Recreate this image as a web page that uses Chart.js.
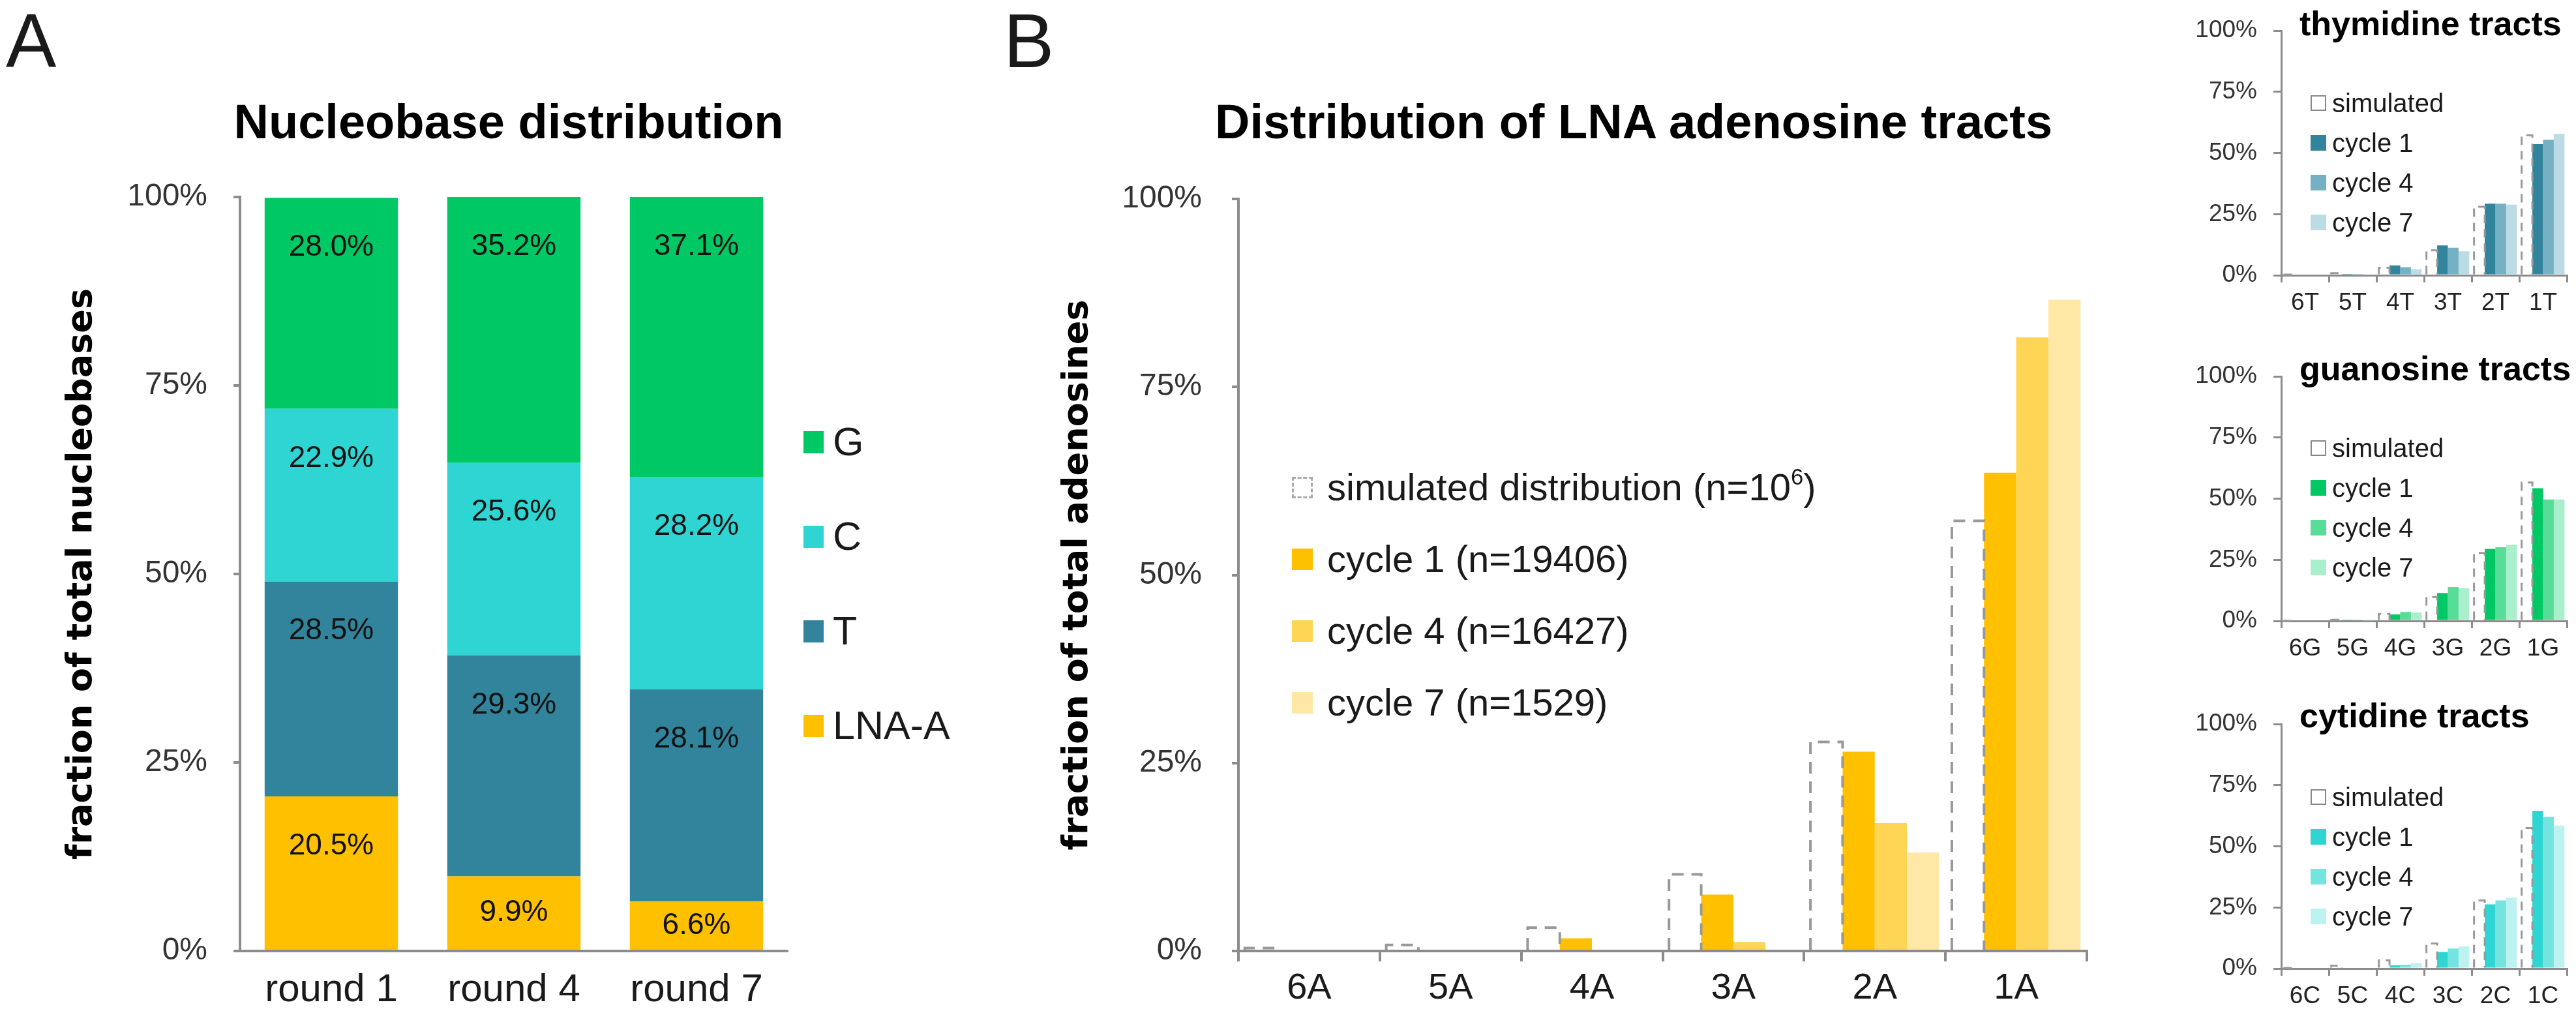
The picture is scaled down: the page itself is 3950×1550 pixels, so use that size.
<!DOCTYPE html>
<html>
<head>
<meta charset="utf-8">
<script src="https://cdn.jsdelivr.net/npm/chart.js@4.4.1/dist/chart.umd.min.js"></script>
<style>
  body { margin: 0; background: #fff; }
  #page { position: relative; width: 3950px; height: 1550px; overflow: hidden; background: #fff;
          font-family: "Liberation Sans", Arial, sans-serif; color: #1a1a1a; }
  canvas { position: absolute; }
  .txt { position: absolute; line-height: 1; white-space: nowrap; }
  .bold { font-weight: bold; color: #000; }
  .leg { position: absolute; }
  .row { display: flex; align-items: center; white-space: nowrap; line-height: 1; }
  .mark { box-sizing: border-box; flex: none; }
  sup { font-size: 0.6em; vertical-align: 0.7em; line-height: 0; }
</style>
</head>
<body>
<div id="page">
  <div class="txt" style="left:9px; top:5px; font-size:116px;">A</div>
  <div class="txt" style="left:1539px; top:5px; font-size:116px;">B</div>
  <div class="txt bold" style="left:780px; top:150px; font-size:74px; transform:translateX(-50%);">Nucleobase distribution</div>
  <div class="txt bold" style="left:2505px; top:150px; font-size:74px; transform:translateX(-50%);">Distribution of LNA adenosine tracts</div>
  <div class="txt bold" style="left:3526px; top:10px; font-size:52px;">thymidine tracts</div>
  <div class="txt bold" style="left:3526px; top:539px; font-size:52px;">guanosine tracts</div>
  <div class="txt bold" style="left:3526px; top:1071px; font-size:52px;">cytidine tracts</div>

  <canvas id="chartA" width="1215" height="1550" style="left:0; top:0;"></canvas>
  <canvas id="chartB" width="1730" height="1550" style="left:1500px; top:0;"></canvas>
  <canvas id="chartT" width="650" height="500" style="left:3300px; top:0;"></canvas>
  <canvas id="chartG" width="650" height="500" style="left:3300px; top:530px;"></canvas>
  <canvas id="chartC" width="650" height="487" style="left:3300px; top:1063px;"></canvas>

  <div class="leg" id="legA" style="left:1232px; top:605px;"></div>
  <div class="leg" id="legB" style="left:1981px; top:692px;"></div>
  <div class="leg" id="legT" style="left:3543px; top:127px;"></div>
  <div class="leg" id="legG" style="left:3543px; top:656px;"></div>
  <div class="leg" id="legC" style="left:3543px; top:1191px;"></div>
</div>

<script>
// ---- panel A: nucleobase distribution (stacked, bottom to top) ----
const roundLabels = ["round 1", "round 4", "round 7"];
const lnaA = [20.5, 9.9, 6.6];
const tBase = [28.5, 29.3, 28.1];
const cBase = [22.9, 25.6, 28.2];
const gBase = [28.0, 35.2, 37.1];

// ---- panel B: LNA adenosine tracts ----
const tractA = ["6A", "5A", "4A", "3A", "2A", "1A"];
const simA = [0.4, 0.8, 3.1, 10.2, 27.8, 57.2];
const cyc1A = [0, 0, 1.7, 7.5, 26.5, 63.6];
const cyc4A = [0, 0, 0, 1.2, 17.0, 81.6];
const cyc7A = [0, 0, 0, 0, 13.1, 86.6];

// ---- small panels ----
const tractT = ["6T", "5T", "4T", "3T", "2T", "1T"];
const simT = [0.3, 0.9, 3.1, 10.2, 28.0, 57.2];
const cyc1T = [0, 0.2, 4.0, 12.2, 29.3, 53.6];
const cyc4T = [0, 0.1, 3.3, 11.3, 29.3, 55.4];
const cyc7T = [0, 0, 2.4, 9.8, 28.9, 57.8];

const tractG = ["6G", "5G", "4G", "3G", "2G", "1G"];
const simG = [0.1, 0.5, 2.9, 9.8, 27.8, 56.6];
const cyc1G = [0, 0.3, 2.7, 11.4, 29.5, 54.3];
const cyc4G = [0, 0.3, 3.7, 13.9, 30.2, 49.7];
const cyc7G = [0, 0.2, 3.4, 13.4, 31.2, 49.7];

const tractC = ["6C", "5C", "4C", "3C", "2C", "1C"];
const simC = [0.3, 1.2, 3.4, 10.3, 27.9, 57.5];
const cyc1C = [0, 0, 1.4, 6.8, 26.3, 64.6];
const cyc4C = [0, 0, 1.6, 8.2, 27.9, 62.1];
const cyc7C = [0, 0, 2.3, 9.1, 29.0, 58.5];

const legendA = ["G", "C", "T", "LNA-A"];
const legendB = ["simulated distribution (n=10<sup>6</sup>)", "cycle 1 (n=19406)", "cycle 4 (n=16427)", "cycle 7 (n=1529)"];
const legendSmall = ["simulated", "cycle 1", "cycle 4", "cycle 7"];

const colG = "#00c864", colC = "#2ed5d2", colT = "#31849b", colA = "#ffc000";
const yellows = ["#ffc000", "#ffd555", "#ffe8a6"];
const blues = ["#31849b", "#76b0c3", "#bcdce5"];
const greens = ["#00c864", "#57dd97", "#a9efcb"];
const cyans = ["#2ed5d2", "#74e4e0", "#bcf2f0"];

const AXIS = "#8c8c8c";
const FONT = '"Liberation Sans", Arial, sans-serif';
Chart.defaults.font.family = FONT;
Chart.defaults.color = "#333";

// dashed outline for the simulated series (dataset 0)
const dashedSim = {
  id: "dashedSim",
  afterDatasetsDraw(chart, args, opts) {
    const ctx = chart.ctx;
    ctx.save();
    ctx.strokeStyle = opts.color;
    ctx.lineWidth = opts.width;
    ctx.setLineDash(opts.dash);
    chart.getDatasetMeta(0).data.forEach(bar => {
      const p = bar.getProps(["x", "y", "base", "width"], true);
      const l = p.x - p.width / 2, r = p.x + p.width / 2;
      ctx.beginPath();
      ctx.moveTo(l, p.base);
      ctx.lineTo(l, p.y);
      ctx.lineTo(r, p.y);
      ctx.lineTo(r, p.base);
      ctx.stroke();
    });
    ctx.restore();
  }
};

// percentage labels inside the stacked segments
const segLabels = {
  id: "segLabels",
  afterDatasetsDraw(chart) {
    const ctx = chart.ctx;
    ctx.save();
    ctx.font = "46px " + FONT;
    ctx.fillStyle = "#111";
    ctx.textAlign = "center";
    ctx.textBaseline = "middle";
    chart.data.datasets.forEach((ds, i) => {
      chart.getDatasetMeta(i).data.forEach((bar, j) => {
        const h = bar.base - bar.y;
        ctx.fillText(ds.data[j].toFixed(1) + "%", bar.x, bar.y + Math.min(76, h / 2));
      });
    });
    ctx.restore();
  }
};

new Chart(document.getElementById("chartA"), {
  type: "bar",
  data: {
    labels: roundLabels,
    datasets: [
      { label: "LNA-A", data: lnaA, backgroundColor: colA },
      { label: "T", data: tBase, backgroundColor: colT },
      { label: "C", data: cBase, backgroundColor: colC },
      { label: "G", data: gBase, backgroundColor: colG }
    ]
  },
  options: {
    responsive: false,
    animation: false,
    datasets: { bar: { barPercentage: 0.73, categoryPercentage: 1 } },
    layout: { padding: { left: 0, right: 7, top: 302, bottom: 0 } },
    plugins: { legend: { display: false }, tooltip: { enabled: false } },
    scales: {
      x: {
        stacked: true,
        afterFit: s => { s.height = 92; },
        grid: { display: true, drawOnChartArea: false, drawTicks: false },
        border: { display: true, color: AXIS, width: 4 },
        ticks: { padding: 24, font: { size: 60 }, color: "#1a1a1a" }
      },
      y: {
        stacked: true, min: 0, max: 100,
        afterFit: s => { s.width = 368; },
        ticks: { stepSize: 25, callback: v => v + "%", padding: 40, font: { size: 48 }, color: "#333" },
        grid: { drawOnChartArea: false, drawTicks: true, tickLength: 10, color: AXIS, lineWidth: 4 },
        border: { display: true, color: AXIS, width: 4 },
        title: { display: true, text: "fraction of total nucleobases", color: "#000",
                 font: { family: "DejaVu Sans", weight: "bold", size: 54 }, padding: { top: 94 } }
      }
    }
  },
  plugins: [segLabels]
});

new Chart(document.getElementById("chartB"), {
  type: "bar",
  data: {
    labels: tractA,
    datasets: [
      { label: "simulated", data: simA, backgroundColor: "rgba(255,255,255,0)", borderWidth: 0 },
      { label: "cycle 1", data: cyc1A, backgroundColor: yellows[0] },
      { label: "cycle 4", data: cyc4A, backgroundColor: yellows[1] },
      { label: "cycle 7", data: cyc7A, backgroundColor: yellows[2] }
    ]
  },
  options: {
    responsive: false,
    animation: false,
    datasets: { bar: { barPercentage: 1, categoryPercentage: 0.91 } },
    layout: { padding: { left: 0, right: 30, top: 305, bottom: 0 } },
    plugins: { legend: { display: false }, tooltip: { enabled: false },
               dashedSim: { color: "#999", width: 4, dash: [18, 12] } },
    scales: {
      x: {
        afterFit: s => { s.height = 92; },
        grid: { display: true, drawOnChartArea: false, drawTicks: true, tickLength: 16, color: AXIS, lineWidth: 4 },
        border: { display: true, color: AXIS, width: 4 },
        ticks: { padding: 8, font: { size: 56 }, color: "#1a1a1a" }
      },
      y: {
        min: 0, max: 100,
        afterFit: s => { s.width = 399; },
        ticks: { stepSize: 25, callback: v => v + "%", padding: 46, font: { size: 48 }, color: "#333" },
        grid: { drawOnChartArea: false, drawTicks: true, tickLength: 10, color: AXIS, lineWidth: 4 },
        border: { display: true, color: AXIS, width: 4 },
        title: { display: true, text: "fraction of total adenosines", color: "#000",
                 font: { family: "DejaVu Sans", weight: "bold", size: 54 }, padding: { top: 121 } }
      }
    }
  },
  plugins: [dashedSim]
});

function makeTractChart(id, labels, sim, c1, c4, c7, cols, xHeight) {
  return new Chart(document.getElementById(id), {
    type: "bar",
    data: {
      labels: labels,
      datasets: [
        { label: "simulated", data: sim, backgroundColor: "rgba(255,255,255,0)", borderWidth: 0 },
        { label: "cycle 1", data: c1, backgroundColor: cols[0] },
        { label: "cycle 4", data: c4, backgroundColor: cols[1] },
        { label: "cycle 7", data: c7, backgroundColor: cols[2] }
      ]
    },
    options: {
      responsive: false,
      animation: false,
      datasets: { bar: { barPercentage: 1, categoryPercentage: 0.9 } },
      layout: { padding: { left: 0, right: 14, top: 38, bottom: 0 } },
      plugins: { legend: { display: false }, tooltip: { enabled: false },
                 dashedSim: { color: "#999", width: 3, dash: [13, 9] } },
      scales: {
        x: {
          afterFit: s => { s.height = xHeight; },
          grid: { display: true, drawOnChartArea: false, drawTicks: true, tickLength: 11, color: AXIS, lineWidth: 3 },
          border: { display: true, color: AXIS, width: 3 },
          ticks: { padding: 10, font: { size: 37 }, color: "#222" }
        },
        y: {
          min: 0, max: 100,
          afterFit: s => { s.width = 198; },
          ticks: { stepSize: 25, callback: v => v + "%", padding: 25, font: { size: 37 }, color: "#333" },
          grid: { drawOnChartArea: false, drawTicks: true, tickLength: 12, color: AXIS, lineWidth: 3 },
          border: { display: true, color: AXIS, width: 3 }
        }
      }
    },
    plugins: [dashedSim]
  });
}

makeTractChart("chartT", tractT, simT, cyc1T, cyc4T, cyc7T, blues, 78);
makeTractChart("chartG", tractG, simG, cyc1G, cyc4G, cyc7G, greens, 78);
makeTractChart("chartC", tractC, simC, cyc1C, cyc4C, cyc7C, cyans, 65);

// legends as html rows
function buildLegend(id, names, swatches, rowH, markW, markH, gap, fontSize) {
  const box = document.getElementById(id);
  names.forEach((name, i) => {
    const row = document.createElement("div");
    row.className = "row";
    row.style.height = rowH + "px";
    row.style.fontSize = fontSize + "px";
    const m = document.createElement("div");
    m.className = "mark";
    m.style.width = markW + "px";
    m.style.height = markH + "px";
    m.style.marginRight = gap + "px";
    const sw = swatches[i];
    if (sw.fill) m.style.background = sw.fill;
    if (sw.border) m.style.border = sw.border;
    row.appendChild(m);
    const t = document.createElement("span");
    t.innerHTML = name;
    row.appendChild(t);
    box.appendChild(row);
  });
}

buildLegend("legA", legendA, [{ fill: colG }, { fill: colC }, { fill: colT }, { fill: colA }], 145, 31, 34, 14, 61);
buildLegend("legB", legendB, [{ fill: "#fff", border: "3px dashed #aaa" }, { fill: yellows[0] }, { fill: yellows[1] }, { fill: yellows[2] }], 110, 32, 33, 22, 58);
const simSw = { fill: "#fff", border: "2px solid #888" };
buildLegend("legT", legendSmall, [simSw, { fill: blues[0] }, { fill: blues[1] }, { fill: blues[2] }], 61, 24, 24, 9, 40);
buildLegend("legG", legendSmall, [simSw, { fill: greens[0] }, { fill: greens[1] }, { fill: greens[2] }], 61, 24, 24, 9, 40);
buildLegend("legC", legendSmall, [simSw, { fill: cyans[0] }, { fill: cyans[1] }, { fill: cyans[2] }], 61, 24, 24, 9, 40);
</script>
</body>
</html>
